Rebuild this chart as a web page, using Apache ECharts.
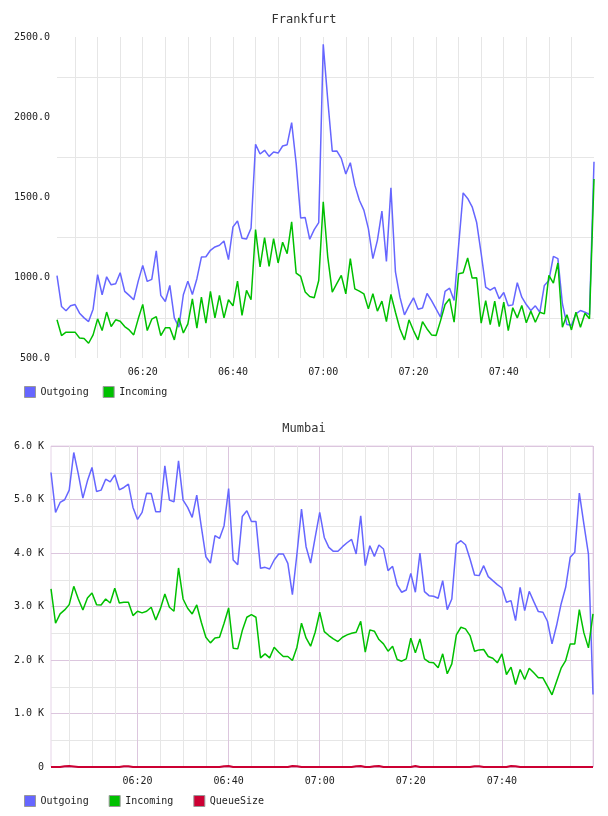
<!DOCTYPE html>
<html>
<head>
<meta charset="utf-8">
<script src="https://cdn.jsdelivr.net/npm/echarts@6/dist/echarts.min.js"></script>
<style>
  html, body { margin: 0; padding: 0; background: #fff; }
  #main { width: 608px; height: 816px; }
</style>
</head>
<body>
<div id="main"></div>
<script>
// one sample per minute, 06:01 .. 08:00
var times = [
  '06:01','06:02','06:03','06:04','06:05','06:06','06:07','06:08','06:09','06:10',
  '06:11','06:12','06:13','06:14','06:15','06:16','06:17','06:18','06:19','06:20',
  '06:21','06:22','06:23','06:24','06:25','06:26','06:27','06:28','06:29','06:30',
  '06:31','06:32','06:33','06:34','06:35','06:36','06:37','06:38','06:39','06:40',
  '06:41','06:42','06:43','06:44','06:45','06:46','06:47','06:48','06:49','06:50',
  '06:51','06:52','06:53','06:54','06:55','06:56','06:57','06:58','06:59','07:00',
  '07:01','07:02','07:03','07:04','07:05','07:06','07:07','07:08','07:09','07:10',
  '07:11','07:12','07:13','07:14','07:15','07:16','07:17','07:18','07:19','07:20',
  '07:21','07:22','07:23','07:24','07:25','07:26','07:27','07:28','07:29','07:30',
  '07:31','07:32','07:33','07:34','07:35','07:36','07:37','07:38','07:39','07:40',
  '07:41','07:42','07:43','07:44','07:45','07:46','07:47','07:48','07:49','07:50',
  '07:51','07:52','07:53','07:54','07:55','07:56','07:57','07:58','07:59','08:00'
];
var xTickLabels = ['06:20', '06:40', '07:00', '07:20', '07:40'];

// Frankfurt
var fraOutgoing = [
  1013, 821, 794, 825, 833, 779, 750, 727, 804, 1019,
  894, 1006, 956, 963, 1031, 915, 890, 863, 979, 1077,
  977, 990, 1167, 890, 852, 952, 750, 692, 894, 979,
  896, 994, 1129, 1131, 1171, 1192, 1202, 1229, 1113, 1317,
  1354, 1246, 1242, 1308, 1831, 1771, 1794, 1756, 1783, 1777,
  1821, 1829, 1967, 1713, 1373, 1375, 1240, 1300, 1344, 2454,
  2108, 1788, 1790, 1744, 1646, 1717, 1577, 1483, 1421, 1306,
  1119, 1233, 1415, 1102, 1560, 1036, 879, 769, 825, 875,
  804, 811, 902, 858, 806, 754, 915, 935, 858, 1200,
  1529, 1494, 1442, 1344, 1150, 942, 923, 940, 869, 908,
  825, 831, 969, 879, 833, 796, 825, 785, 952, 983,
  1133, 1119, 838, 708, 704, 775, 796, 785, 771, 1723
];
var fraIncoming = [
  738, 640, 661, 661, 661, 625, 621, 592, 644, 744,
  671, 786, 696, 738, 729, 696, 675, 644, 744, 834,
  671, 742, 758, 640, 688, 688, 613, 750, 656, 713,
  869, 686, 879, 717, 915, 750, 890, 750, 863, 825,
  979, 765, 921, 863, 1300, 1067, 1250, 1071, 1244, 1092,
  1221, 1150, 1348, 1029, 1008, 911, 883, 875, 983, 1473,
  1129, 911, 963, 1015, 900, 1119, 931, 917, 900, 806,
  900, 792, 854, 727, 896, 785, 681, 613, 738, 671,
  613, 727, 681, 644, 640, 733, 833, 869, 723, 1025,
  1031, 1123, 998, 1000, 717, 858, 708, 854, 696, 848,
  671, 813, 750, 827, 719, 792, 723, 785, 775, 1015,
  967, 1092, 692, 769, 675, 785, 692, 779, 744, 1615
];

// Mumbai
var mumOutgoing = [
  5505, 4758, 4945, 4995, 5175, 5878, 5474, 5026, 5349, 5598,
  5150, 5175, 5380, 5331, 5461, 5181, 5225, 5287, 4852, 4628,
  4758, 5119, 5113, 4771, 4771, 5629, 4988, 4957, 5722, 4988,
  4852, 4665, 5082, 4491, 3931, 3813, 4323, 4273, 4510, 5206,
  3869, 3782, 4684, 4789, 4590, 4590, 3713, 3732, 3701, 3869,
  3981, 3981, 3807, 3222, 3981, 4821, 4118, 3813, 4292, 4758,
  4290, 4105, 4031, 4031, 4118, 4192, 4255, 3981, 4696, 3763,
  4136, 3937, 4149, 4074, 3670, 3751, 3402, 3266, 3309, 3620,
  3266, 3999, 3278, 3203, 3191, 3154, 3483, 2942, 3141, 4167,
  4230, 4155, 3888, 3589, 3577, 3763, 3558, 3483, 3409, 3346,
  3079, 3110, 2737, 3359, 2923, 3284, 3091, 2905, 2892, 2724,
  2301, 2644, 3048, 3359, 3919, 4012, 5119, 4541, 3981, 1356
];
var mumIncoming = [
  3328, 2687, 2861, 2936, 3035, 3377, 3141, 2936, 3160, 3253,
  3035, 3029, 3141, 3066, 3340, 3066, 3079, 3079, 2830, 2911,
  2880, 2911, 2986, 2749, 2955, 3234, 2986, 2911, 3720, 3141,
  2967, 2861, 3029, 2706, 2426, 2320, 2413, 2426, 2687, 2973,
  2221, 2208, 2550, 2799, 2849, 2799, 2040, 2115, 2040, 2239,
  2146, 2065, 2065, 1990, 2239, 2687, 2413, 2258, 2519, 2892,
  2530, 2457, 2395, 2345, 2426, 2469, 2500, 2519, 2724, 2146,
  2563, 2538, 2382, 2301, 2165, 2258, 2009, 1978, 2022, 2407,
  2133, 2395, 2022, 1959, 1947, 1854, 2115, 1742, 1928, 2469,
  2612, 2581, 2457, 2165, 2189, 2196, 2065, 2034, 1947, 2115,
  1729, 1866, 1543, 1822, 1636, 1847, 1760, 1667, 1667, 1511,
  1350, 1599, 1847, 1990, 2301, 2301, 2942, 2507, 2227, 2861
];
var mumQueueSize = [
  0, 0, 0, 15, 20, 10, 0, 0, 0, 0,
  0, 0, 0, 0, 0, 0, 15, 15, 0, 0,
  0, 0, 0, 0, 0, 0, 0, 0, 0, 0,
  0, 0, 0, 0, 0, 0, 0, 0, 15, 20,
  0, 0, 0, 0, 0, 0, 0, 0, 0, 0,
  0, 0, 0, 20, 15, 0, 0, 0, 0, 0,
  0, 0, 0, 0, 0, 0, 0, 15, 20, 0,
  0, 15, 20, 0, 0, 0, 0, 0, 0, 0,
  20, 0, 0, 0, 0, 0, 0, 0, 0, 0,
  0, 0, 0, 15, 15, 0, 0, 0, 0, 0,
  0, 20, 15, 0, 0, 0, 0, 0, 0, 0,
  0, 0, 0, 0, 0, 0, 0, 0, 0, 0
];

var BLUE = '#6666ff';
var GREEN = '#00c000';
var RED = '#cc0033';
var FONT = 'DejaVu Sans Mono';
var GREY_LINE = '#e6e6e6';
var PINK_LINE = '#dcc6de';

function isFiveMin(value) {
  var m = value.slice(-1);
  return m === '0' || m === '5';
}

var chart = echarts.init(document.getElementById('main'));

chart.setOption({
  animation: false,
  textStyle: { fontFamily: FONT },
  title: [
    { text: 'Frankfurt', left: 'center', top: 9,
      textStyle: { fontFamily: FONT, fontSize: 12, fontWeight: 'normal', color: '#333' } },
    { text: 'Mumbai', left: 'center', top: 418,
      textStyle: { fontFamily: FONT, fontSize: 12, fontWeight: 'normal', color: '#333' } }
  ],
  legend: [
    { data: ['Outgoing', 'Incoming'], left: 24, top: 386, padding: 0, icon: 'rect',
      itemWidth: 11, itemHeight: 11, itemGap: 14,
      itemStyle: { borderColor: '#999', borderWidth: 1 },
      textStyle: { fontFamily: FONT, fontSize: 10, color: '#222' } },
    { data: ['Outgoing', 'Incoming', 'QueueSize'], left: 24, top: 795, padding: 0, icon: 'rect',
      itemWidth: 11, itemHeight: 11, itemGap: 20,
      itemStyle: { borderColor: '#999', borderWidth: 1 },
      textStyle: { fontFamily: FONT, fontSize: 10, color: '#222' } }
  ],
  grid: [
    { left: 57, right: 14, top: 37, height: 321 },
    { left: 51, right: 15, top: 446, height: 321, show: true,
      borderColor: '#e6d4e8', borderWidth: 1, backgroundColor: 'transparent' }
  ],
  xAxis: [
    {
      gridIndex: 0, type: 'category', data: times, boundaryGap: false,
      axisLine: { show: false }, axisTick: { show: false },
      axisLabel: {
        interval: function (i, v) { return xTickLabels.indexOf(v) >= 0; },
        margin: 9, fontFamily: FONT, fontSize: 10, color: '#222'
      },
      splitLine: {
        show: true,
        interval: function (i, v) { return isFiveMin(v) && v !== '08:00'; },
        lineStyle: { color: GREY_LINE, width: 1 }
      }
    },
    {
      gridIndex: 1, type: 'category', data: times, boundaryGap: false,
      axisLine: { show: false }, axisTick: { show: false },
      axisLabel: {
        interval: function (i, v) { return xTickLabels.indexOf(v) >= 0; },
        margin: 9, fontFamily: FONT, fontSize: 10, color: '#222'
      },
      splitLine: {
        show: true,
        interval: function (i, v) { return isFiveMin(v); },
        lineStyle: { color: [GREY_LINE, GREY_LINE, GREY_LINE, PINK_LINE], width: 1 }
      }
    }
  ],
  yAxis: [
    {
      gridIndex: 0, type: 'value', min: 500, max: 2500, interval: 500,
      axisLine: { show: false }, axisTick: { show: false },
      axisLabel: {
        margin: 7, fontFamily: FONT, fontSize: 10, color: '#222',
        formatter: function (v) { return v.toFixed(1); }
      },
      splitLine: { show: false },
      minorTick: { show: false, splitNumber: 2 },
      minorSplitLine: { show: true, lineStyle: { color: GREY_LINE, width: 1 } }
    },
    {
      gridIndex: 1, type: 'value', min: 0, max: 6000, interval: 1000,
      axisLine: { show: false }, axisTick: { show: false },
      axisLabel: {
        margin: 7, fontFamily: FONT, fontSize: 10, color: '#222',
        formatter: function (v) { return v === 0 ? '0' : (v / 1000).toFixed(1) + ' K'; }
      },
      splitLine: { show: true, lineStyle: { color: PINK_LINE, width: 1 } },
      minorTick: { show: false, splitNumber: 2 },
      minorSplitLine: { show: true, lineStyle: { color: GREY_LINE, width: 1 } }
    }
  ],
  series: [
    { name: 'Outgoing', type: 'line', xAxisIndex: 0, yAxisIndex: 0, data: fraOutgoing,
      showSymbol: false, symbol: 'none', itemStyle: { color: BLUE },
      lineStyle: { color: BLUE, width: 1.5 } },
    { name: 'Incoming', type: 'line', xAxisIndex: 0, yAxisIndex: 0, data: fraIncoming,
      showSymbol: false, symbol: 'none', itemStyle: { color: GREEN },
      lineStyle: { color: GREEN, width: 1.5 } },
    { name: 'Outgoing', type: 'line', xAxisIndex: 1, yAxisIndex: 1, data: mumOutgoing,
      showSymbol: false, symbol: 'none', itemStyle: { color: BLUE },
      lineStyle: { color: BLUE, width: 1.5 } },
    { name: 'Incoming', type: 'line', xAxisIndex: 1, yAxisIndex: 1, data: mumIncoming,
      showSymbol: false, symbol: 'none', itemStyle: { color: GREEN },
      lineStyle: { color: GREEN, width: 1.5 } },
    { name: 'QueueSize', type: 'line', xAxisIndex: 1, yAxisIndex: 1, data: mumQueueSize,
      showSymbol: false, symbol: 'none', itemStyle: { color: RED },
      lineStyle: { color: RED, width: 2 } }
  ]
});
</script>
</body>
</html>
